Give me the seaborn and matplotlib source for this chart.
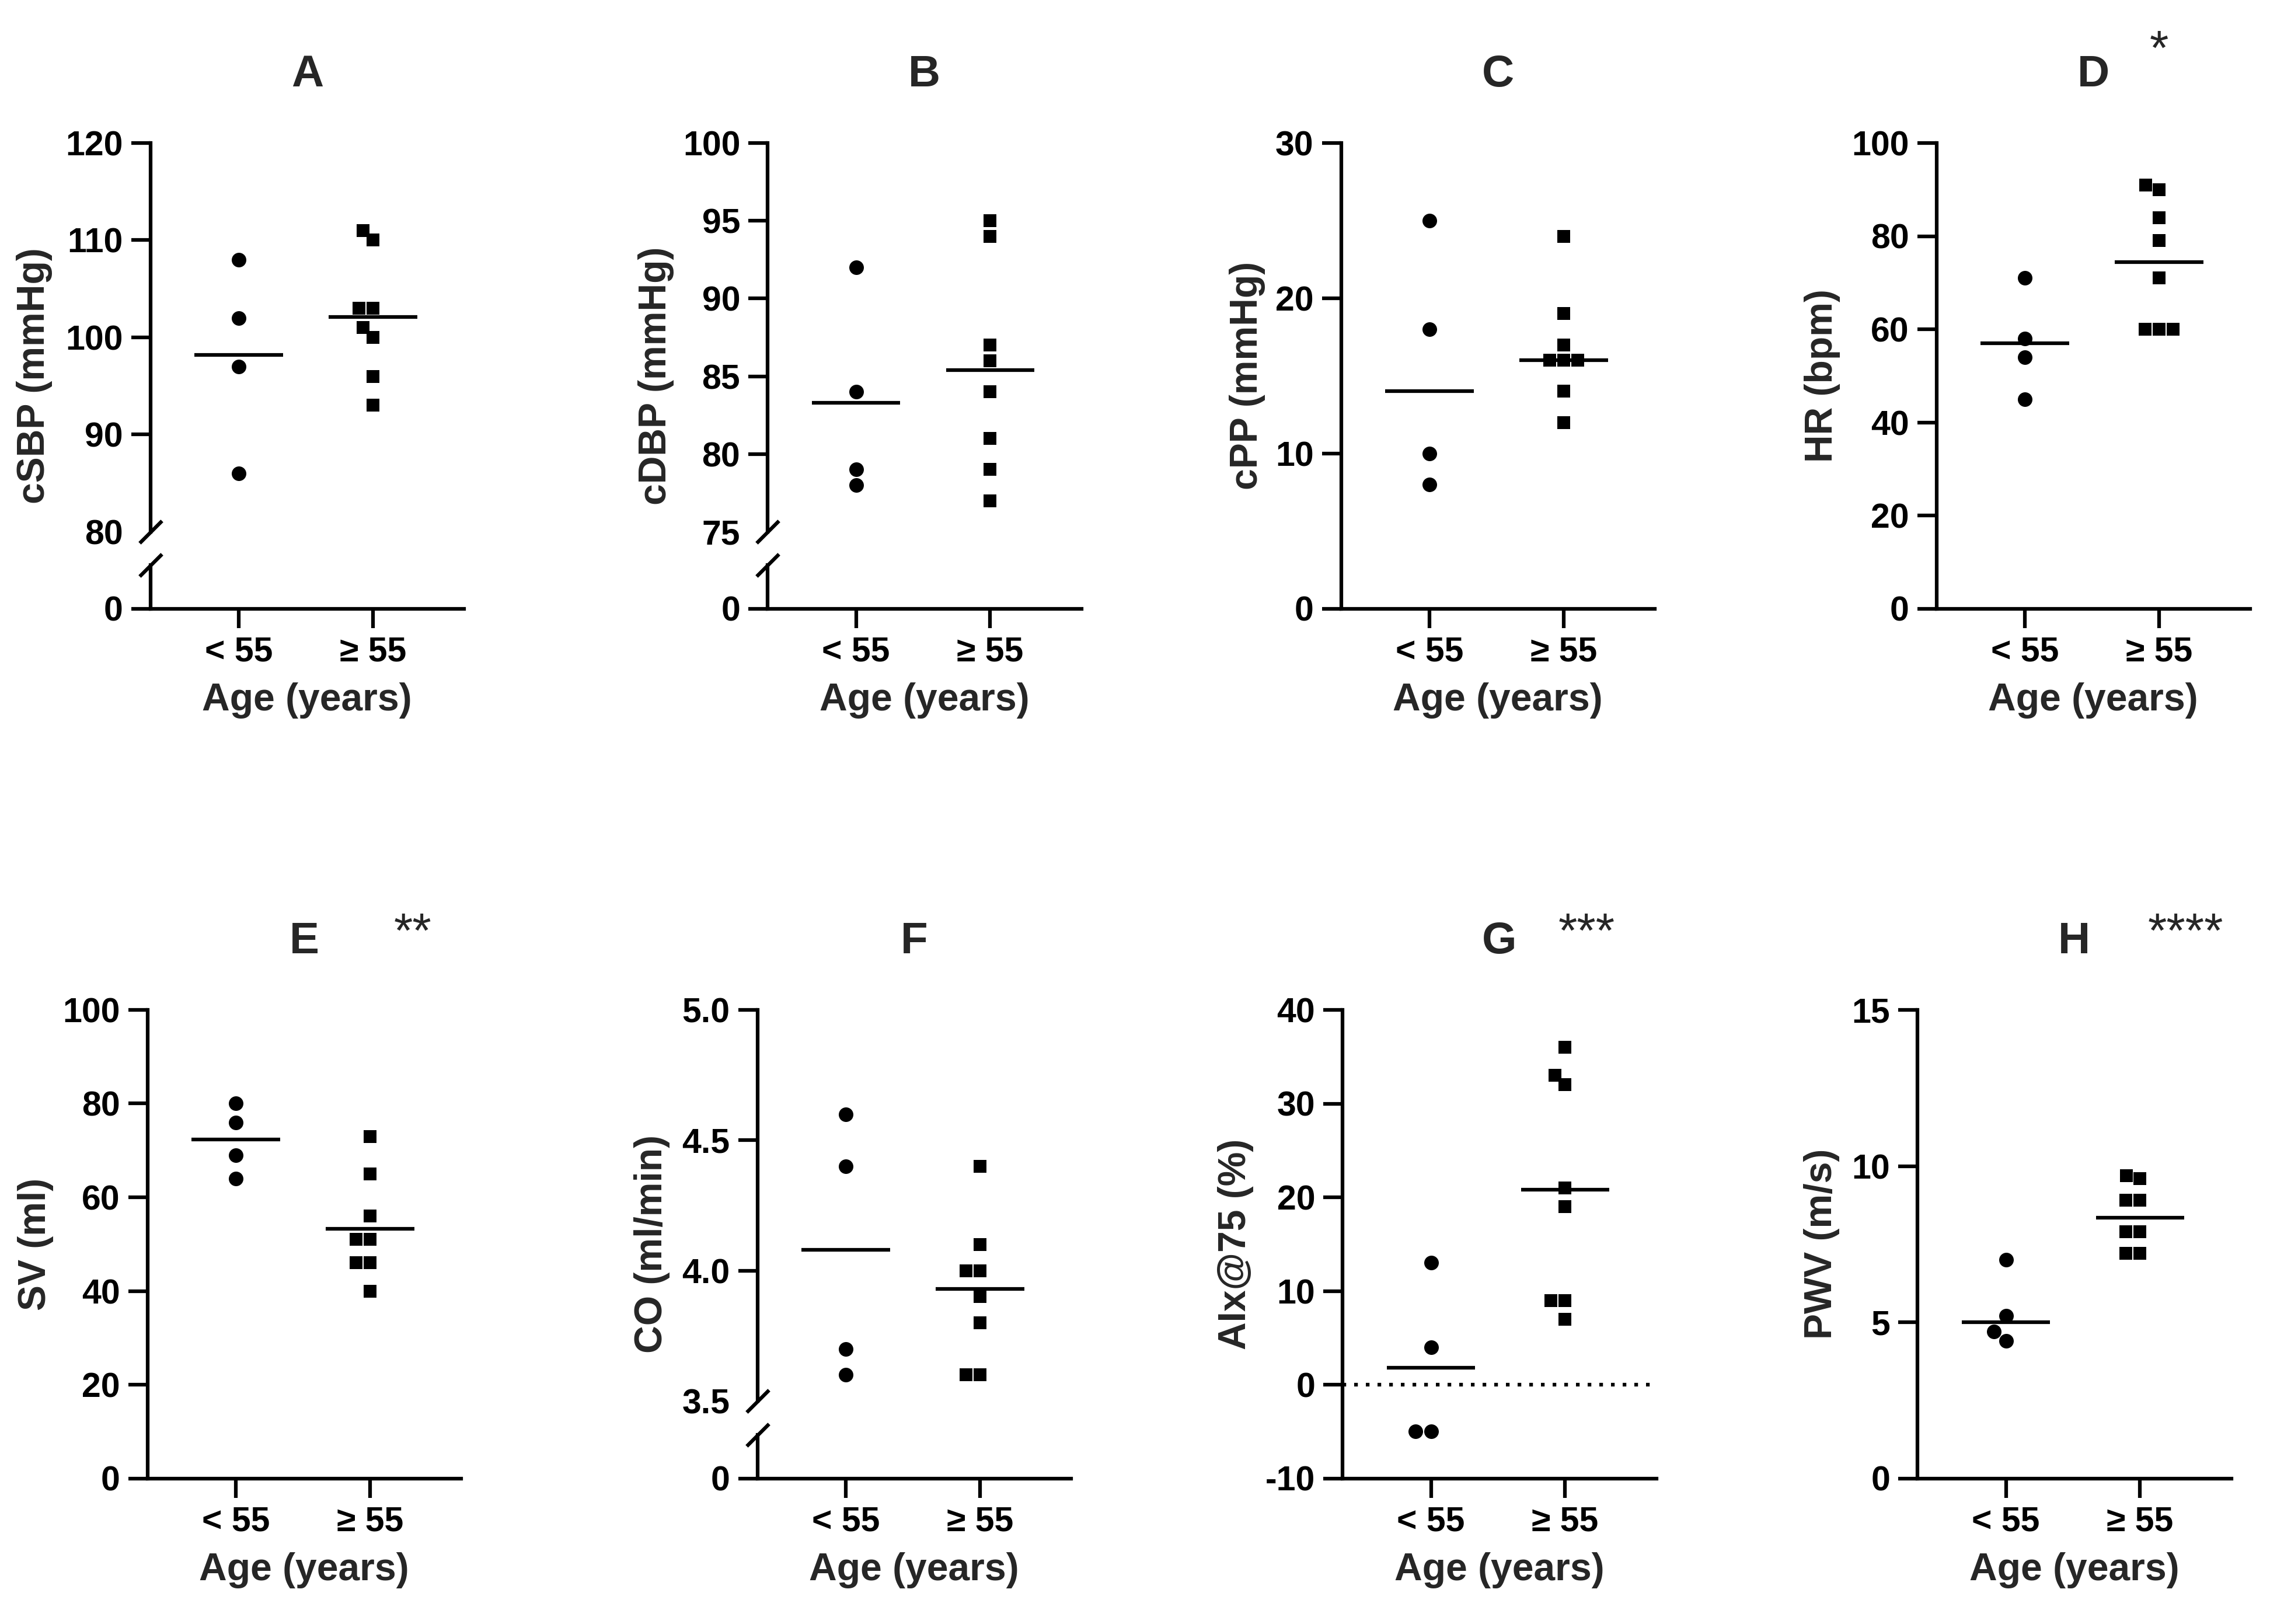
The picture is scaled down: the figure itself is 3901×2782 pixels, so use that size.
import numpy as np
import pandas as pd
import seaborn as sns
import matplotlib.pyplot as plt

# age groups on the x axis
groups = ["< 55", "\u2265 55"]

# values: young = < 55 years, old = >= 55 years
csbp_young = [108, 102, 97, 86]
csbp_old = [111, 110, 103, 103, 101, 100, 96, 93]
cdbp_young = [92, 84, 79, 78]
cdbp_old = [95, 94, 87, 86, 84, 81, 79, 77]
cpp_young = [25, 18, 10, 8]
cpp_old = [24, 19, 17, 16, 16, 16, 14, 12]
hr_young = [71, 58, 54, 45]
hr_old = [91, 90, 84, 79, 71, 60, 60, 60]
sv_young = [80, 76, 69, 64]
sv_old = [73, 65, 56, 51, 51, 46, 46, 40]
co_young = [4.6, 4.4, 3.7, 3.6]
co_old = [4.4, 4.1, 4.0, 4.0, 3.9, 3.8, 3.6, 3.6]
aix_young = [13, 4, -5, -5]
aix_old = [36, 33, 32, 21, 19, 9, 9, 7]
pwv_young = [7.0, 5.2, 4.7, 4.4]
pwv_old = [9.7, 9.6, 8.9, 8.9, 7.9, 7.9, 7.2, 7.2]

# group lines as drawn in the figure
mean_young = [98.2, 83.3, 14.0, 57.0, 72.3, 4.08, 1.8, 5.0]
mean_old = [102.1, 85.4, 16.0, 74.4, 53.3, 3.93, 20.8, 8.35]

letters = ["A", "B", "C", "D", "E", "F", "G", "H"]
ylabels = ["cSBP (mmHg)", "cDBP (mmHg)", "cPP (mmHg)", "HR (bpm)",
           "SV (ml)", "CO (ml/min)", "AIx@75 (%)", "PWV (m/s)"]
stars = ["", "", "", "*", "**", "", "***", "****"]

yticks = [[80, 90, 100, 110, 120], [75, 80, 85, 90, 95, 100], [0, 10, 20, 30],
          [0, 20, 40, 60, 80, 100], [0, 20, 40, 60, 80, 100],
          [3.5, 4.0, 4.5, 5.0], [-10, 0, 10, 20, 30, 40], [0, 5, 10, 15]]
yfmt = ["%d", "%d", "%d", "%d", "%d", "%.1f", "%d", "%d"]
broken = [True, True, False, False, False, True, False, False]

young = [csbp_young, cdbp_young, cpp_young, hr_young, sv_young, co_young, aix_young, pwv_young]
old = [csbp_old, cdbp_old, cpp_old, hr_old, sv_old, co_old, aix_old, pwv_old]

# layout (units of 1/100 inch, origin top-left)
W, H = 1560.4, 1112.8
lefts = [103, 526, 919, 1327, 101, 519, 920, 1314]
tops = [98, 98, 98, 98, 692, 692, 692, 692]
heights = [319, 319, 319, 319, 321, 321, 321, 321]
AX_W = 215
lab_off = [-67, -64, -52, -66, -64, -60, -61, -53]
star_x = [0, 0, 0, 1.0, 1.32, 0, 1.16, 1.34]
XLIM = (-0.66, 1.68)

sns.set_style("ticks")
plt.rcParams["font.family"] = ["Liberation Sans", "DejaVu Sans"]
plt.rcParams["font.weight"] = "bold"
plt.rcParams["axes.labelweight"] = "bold"
plt.rcParams["axes.titleweight"] = "bold"
plt.rcParams["axes.edgecolor"] = "black"
plt.rcParams["xtick.color"] = "black"
plt.rcParams["ytick.color"] = "black"


def box(left, top, width, height):
    return [left / W, 1 - (top + height) / H, width / W, height / H]


def style(ax):
    sns.despine(ax=ax)
    for s in ax.spines.values():
        s.set_linewidth(1.8)
    ax.tick_params(width=1.8, length=9.5, labelsize=17, pad=4)


def swarm(ax, yv, ov):
    df1 = pd.DataFrame({"age": [groups[0]] * len(yv), "value": yv})
    df2 = pd.DataFrame({"age": [groups[1]] * len(ov), "value": ov})
    sns.swarmplot(data=df1, x="age", y="value", order=groups, marker="o",
                  size=7.2, color="black", ax=ax)
    sns.swarmplot(data=df2, x="age", y="value", order=groups, marker="s",
                  size=6.6, color="black", ax=ax)


fig = plt.figure(figsize=(W / 100, H / 100), dpi=250)

for i in range(8):
    top, hgt, left = tops[i], heights[i], lefts[i]
    if broken[i]:
        ax = fig.add_axes(box(left, top, AX_W, hgt * 0.835))
        axb = fig.add_axes(box(left, top + hgt * 0.907, AX_W, hgt * 0.093))
    else:
        ax = fig.add_axes(box(left, top, AX_W, hgt))
        axb = ax

    swarm(ax, young[i], old[i])
    ax.hlines([mean_young[i], mean_old[i]], [-0.33, 0.67], [0.33, 1.33],
              color="black", lw=1.8, zorder=3)
    if letters[i] == "G":
        ax.axhline(0, color="black", lw=1.8, ls=(0, (1, 2.2)), zorder=1)

    ax.set_ylim(yticks[i][0], yticks[i][-1])
    ax.set_yticks(yticks[i])
    ax.set_yticklabels([yfmt[i] % v for v in yticks[i]])
    ax.set_xlim(*XLIM)
    style(ax)
    ax.set_xlabel("")
    ax.set_ylabel(ylabels[i], fontsize=19)
    ax.yaxis.set_label_coords(lab_off[i] / AX_W, 0.401 if broken[i] else 0.5)
    ax.set_title(letters[i], fontsize=22, pad=28)

    if broken[i]:
        ax.spines["bottom"].set_visible(False)
        ax.tick_params(axis="x", bottom=False, labelbottom=False)
        ax.yaxis.get_major_ticks()[0].tick1line.set_visible(False)
        axb.set_xlim(*XLIM)
        axb.set_ylim(0, 1)
        axb.set_yticks([0])
        axb.set_yticklabels(["0"])
        style(axb)
        kw = dict(marker=[(-1, -1), (1, 1)], markersize=11, mew=1.8,
                  color="black", clip_on=False, linestyle="none")
        ax.plot([0], [0], transform=ax.transAxes, **kw)
        axb.plot([0], [1], transform=axb.transAxes, **kw)

    axb.set_xticks([0, 1])
    axb.set_xticklabels(groups)
    axb.set_xlabel("Age (years)", fontsize=19, labelpad=7)

    if stars[i]:
        up = 1 + (53.7 if i < 4 else 43) / hgt
        ax.text(star_x[i], up, stars[i], transform=ax.get_xaxis_transform(),
                ha="center", va="baseline", fontsize=24, fontweight="normal")

fig.savefig("out.png", dpi=250)
